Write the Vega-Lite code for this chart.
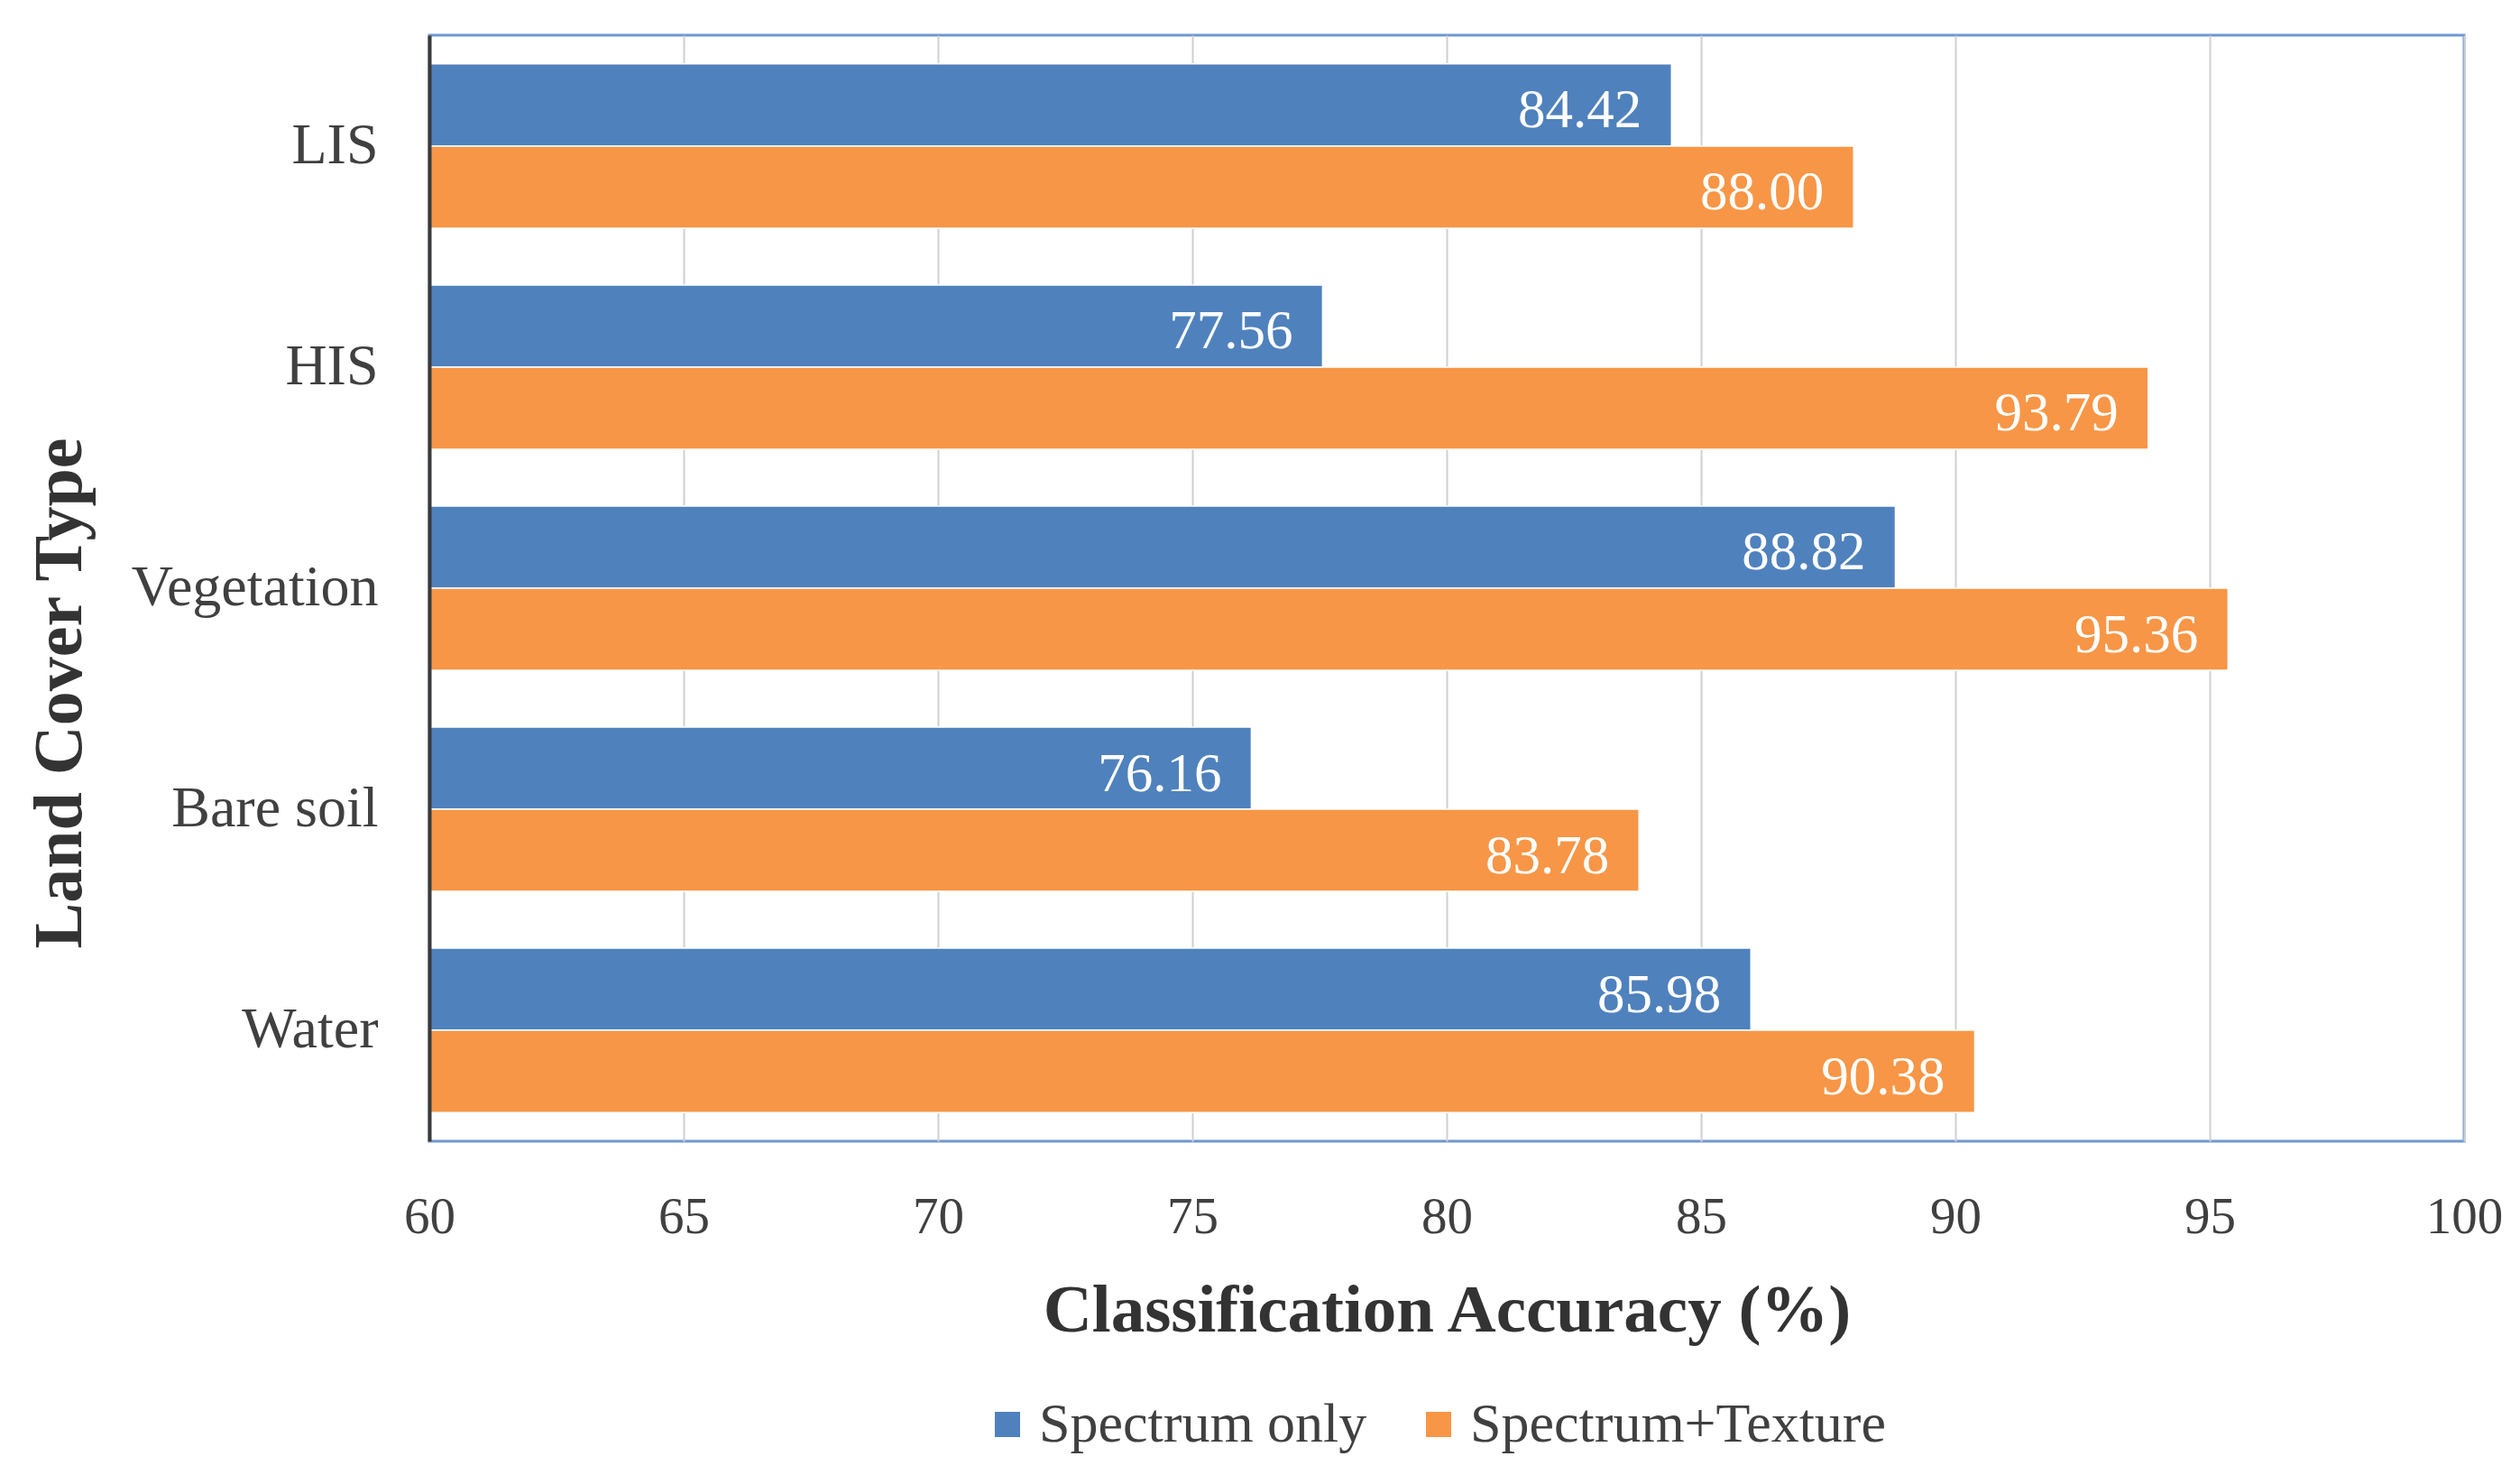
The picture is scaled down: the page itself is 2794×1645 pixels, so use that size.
{
  "$schema": "https://vega.github.io/schema/vega-lite/v6.json",
  "width": 2256,
  "height": 1226,
  "autosize": {"type": "none"},
  "padding": {"left": 476, "top": 39, "right": 62, "bottom": 380},
  "background": "white",
  "config": {
    "view": {"stroke": "#6F97D0", "strokeWidth": 3},
    "font": "Liberation Serif"
  },
  "data": {
    "values": [
      {"type": "LIS", "series": "Spectrum only", "value": 84.42},
      {"type": "LIS", "series": "Spectrum+Texture", "value": 88.00},
      {"type": "HIS", "series": "Spectrum only", "value": 77.56},
      {"type": "HIS", "series": "Spectrum+Texture", "value": 93.79},
      {"type": "Vegetation", "series": "Spectrum only", "value": 88.82},
      {"type": "Vegetation", "series": "Spectrum+Texture", "value": 95.36},
      {"type": "Bare soil", "series": "Spectrum only", "value": 76.16},
      {"type": "Bare soil", "series": "Spectrum+Texture", "value": 83.78},
      {"type": "Water", "series": "Spectrum only", "value": 85.98},
      {"type": "Water", "series": "Spectrum+Texture", "value": 90.38}
    ]
  },
  "encoding": {
    "y": {
      "field": "type",
      "type": "nominal",
      "sort": ["LIS", "HIS", "Vegetation", "Bare soil", "Water"],
      "scale": {"paddingInner": 0.257, "paddingOuter": 0.13},
      "axis": {
        "title": "Land Cover Type",
        "titleFont": "Liberation Serif",
        "titleFontSize": 76,
        "titleFontWeight": "bold",
        "titleColor": "#333333",
        "titleX": -410,
        "titleY": 729,
        "titleAngle": 270,
        "titleBaseline": "middle",
        "titleAlign": "center",
        "labelFontSize": 64,
        "labelColor": "#404040",
        "labelPadding": 57,
        "labelLimit": 0,
        "ticks": false,
        "tickSize": 0,
        "domainColor": "#3a3a3a",
        "domainWidth": 4,
        "grid": false,
        "zindex": 1
      }
    },
    "yOffset": {"field": "series", "sort": ["Spectrum only", "Spectrum+Texture"]},
    "x": {
      "field": "value",
      "type": "quantitative",
      "scale": {"domain": [60, 100], "zero": false},
      "axis": {
        "title": "Classification Accuracy (%)",
        "titleFontSize": 75,
        "titleFontWeight": "bold",
        "titleColor": "#333333",
        "titlePadding": 39,
        "values": [60, 65, 70, 75, 80, 85, 90, 95, 100],
        "labelFontSize": 57,
        "labelColor": "#404040",
        "labelPadding": 56,
        "labelFlush": false,
        "labelBound": false,
        "labelOverlap": false,
        "ticks": false,
        "tickSize": 0,
        "domain": false,
        "grid": true,
        "gridColor": "#d0d0d0",
        "gridWidth": 2
      }
    }
  },
  "layer": [
    {
      "mark": {"type": "bar", "stroke": "white", "strokeWidth": 1.5},
      "encoding": {
        "x2": {"datum": 60},
        "color": {
          "field": "series",
          "type": "nominal",
          "scale": {"domain": ["Spectrum only", "Spectrum+Texture"], "range": ["#4F81BD", "#F79646"]},
          "legend": {
            "orient": "none",
            "legendX": 610,
            "legendY": 1509,
            "direction": "horizontal",
            "title": null,
            "symbolType": "square",
            "symbolSize": 784,
            "symbolStrokeWidth": 0,
            "labelFontSize": 62,
            "labelColor": "#404040",
            "labelOffset": 4,
            "labelLimit": 0,
            "columnPadding": 48
          }
        }
      }
    },
    {
      "mark": {"type": "text", "align": "right", "baseline": "middle", "dx": -33, "dy": 7, "color": "white", "fontSize": 61},
      "encoding": {"text": {"field": "value", "type": "quantitative", "format": ".2f"}}
    }
  ]
}
